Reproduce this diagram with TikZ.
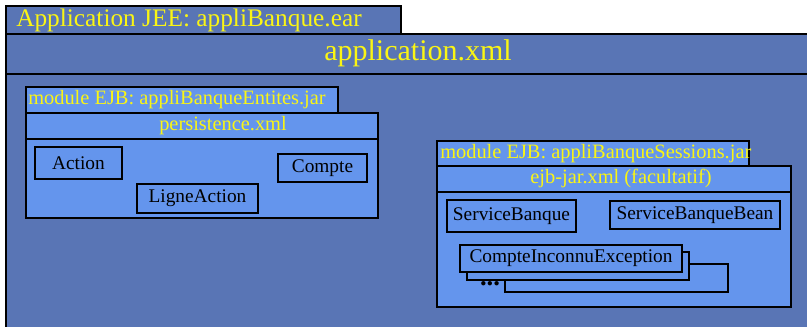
\documentclass[tikz,border=0pt]{standalone}
\usepackage{fontspec}
\setmainfont{Liberation Serif}
\definecolor{earblue}{RGB}{89,117,181}
\definecolor{jarblue}{RGB}{100,149,237}
\definecolor{yellowtxt}{RGB}{250,245,20}
\tikzset{
  earbox/.style={draw, line width=1.4pt, fill=earblue},
  jarbox/.style={draw, line width=1.4pt, fill=jarblue},
  classbox/.style={jarbox, inner sep=0pt, font=\fontsize{14.5}{16}\selectfont},
  yellowtext/.style={text=yellowtxt, inner sep=0pt, font=\fontsize{15.3}{17}\selectfont},
}

\begin{document}
\begin{tikzpicture}[x=0.75pt,y=-0.75pt]
        \useasboundingbox (0,0) rectangle (807,326);
        \clip (0,0) rectangle (807,326);
        % ear
        \draw[earbox] (6,6) rectangle (401,34);
        \node[yellowtext,anchor=west,font=\fontsize{19}{20}\selectfont] (ear) at (16,20) {Application JEE: appliBanque.ear};
        \draw[earbox] (6,34) rectangle (815,335);
        \draw[line width=1.4pt] (6,74)--(815,74);
        \node[yellowtext,font=\fontsize{22.5}{24}\selectfont] (appxml) at (418,53) {application.xml};
        % jar entites
        \draw[jarbox] (26,87) rectangle (338,113);
        \node[yellowtext,anchor=west] (entjar) at (28,100) {module EJB: appliBanqueEntites.jar};
        \draw[jarbox] (26,113) rectangle (378,218);
        \draw[line width=1.4pt] (26,139)--(378,139);
        \node[yellowtext] (persist) at (223,126) {persistence.xml};
        % jar sessions
        \draw[jarbox] (437,141) rectangle (749,166);
        \node[yellowtext,anchor=west] (sessjar) at (440,153.5) {module EJB: appliBanqueSessions.jar};
        \draw[jarbox] (437,166) rectangle (791,307);
        \draw[line width=1.4pt] (437,192)--(791,192);
        \node[yellowtext] (ejbxml) at (621,178) {ejb-jar.xml (facultatif)};
        % back of the stack
        \draw[jarbox] (505,264) rectangle (728,292);
        \draw[jarbox] (467,252) rectangle (689,280);
        \node[inner sep=0pt,font=\fontsize{20}{20}\bfseries\selectfont] (dots) at (490,284) {...};
        % classes
        \foreach \n/\t/\x/\y/\w/\h in {action/Action/78.5/163/87/32,
            compte/Compte/322.5/168/89/28,
            ligne/LigneAction/197.5/198.5/121/29,
            service/ServiceBanque/511.5/216/129/32,
            bean/ServiceBanqueBean/695/215/170/28,
            inconnu/CompteInconnuException/571/258.5/222/27}
        {
            \node[classbox,minimum width=\w*0.75pt,minimum height=\h*0.75pt] (\n) at (\x,\y) {\t};
        }
    \end{tikzpicture}
\end{document}
